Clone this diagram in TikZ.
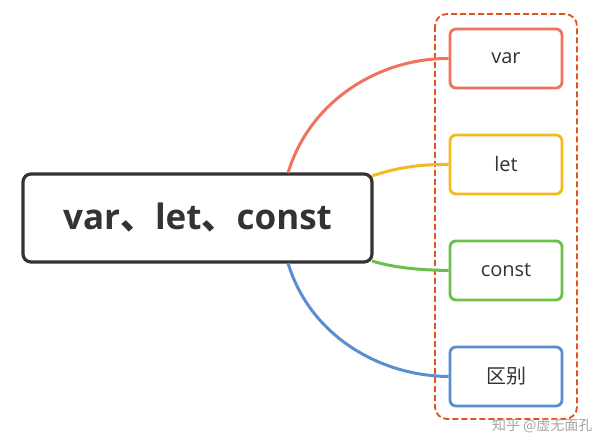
\documentclass[tikz,border=0pt]{standalone}
\usepackage{fontspec}
\setmainfont{Open Sans}
\newfontfamily\cjk{Noto Sans CJK SC}
\definecolor{cvar}{HTML}{EF735D}
\definecolor{clet}{HTML}{F5B921}
\definecolor{cconst}{HTML}{6CBF4B}
\definecolor{cqb}{HTML}{5A8ED2}
\definecolor{cdash}{HTML}{E0521E}
\definecolor{cmain}{HTML}{333333}
\tikzset{
  leaf/.style={draw=#1, line width=2.8pt, rounded corners=6pt, minimum width=112pt, minimum height=59pt, fill=white, font=\fontsize{20}{24}\selectfont, text=cmain},
  link/.style={draw=#1, line width=3pt},
}
\begin{document}
\begin{tikzpicture}[x=1pt,y=-1pt]
\useasboundingbox (0,0) rectangle (606,441);
\fill[white] (0,0) rectangle (606,441);
\draw[cdash, line width=1.8pt, dashed, dash pattern=on 6pt off 3pt, rounded corners=12pt] (435,14) rectangle (577,419);
\node[draw=cmain, line width=3.2pt, rounded corners=8pt, minimum width=349pt, minimum height=88pt, font=\fontsize{35}{40}\selectfont\bfseries, text=cmain] (m) at (197.5,218) {var{\cjk 、}let{\cjk 、}const};
\node[leaf=cvar] (a) at (506,58.5) {var};
\node[leaf=clet] (b) at (506,164.5) {let};
\node[leaf=cconst] (c) at (506,270.5) {const};
\node[leaf=cqb] (d) at (506,376.5) {\cjk 区别};
\coordinate (ma) at (288,173);
\coordinate (mb) at (372,176);
\coordinate (mc) at (372,261);
\coordinate (md) at (288,263);
\draw[link=cvar] (ma) .. controls (310,100) and (380,58) .. (a.west);
\draw[link=clet] (mb) .. controls (395,168) and (420,164) .. (b.west);
\draw[link=cconst] (mc) .. controls (395,268) and (420,270) .. (c.west);
\draw[link=cqb] (md) .. controls (310,336) and (380,376) .. (d.west);
\node[text=gray!70, font=\cjk\fontsize{14}{16}\selectfont, anchor=south east] (w) at (596,436) {知乎 @虚无面孔};
\end{tikzpicture}
\end{document}
